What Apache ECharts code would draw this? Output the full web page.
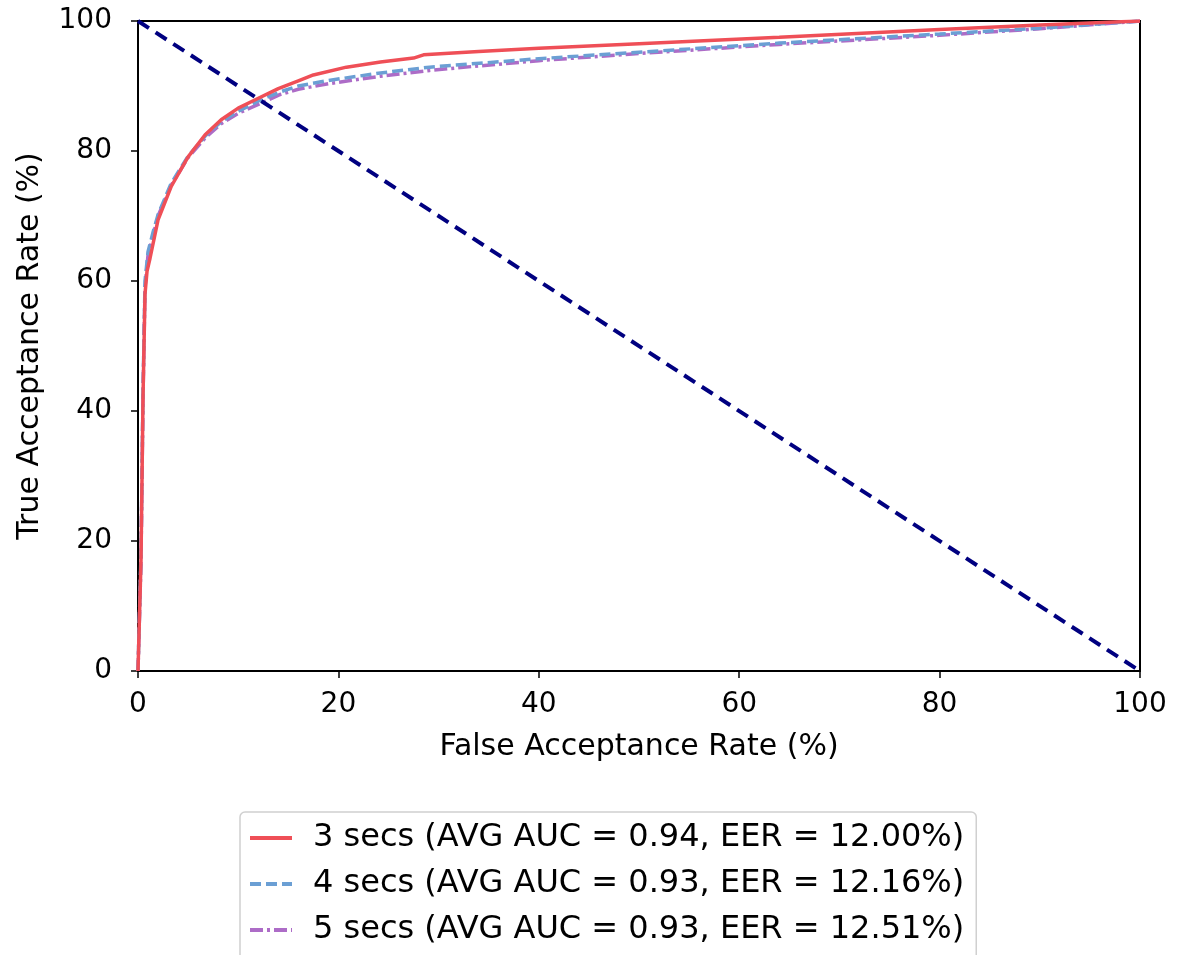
<!DOCTYPE html>
<html>
<head>
<meta charset="utf-8">
<script src="https://cdn.jsdelivr.net/npm/echarts@6/dist/echarts.min.js"></script>
<style>
  html, body { margin: 0; padding: 0; background: #fff; }
  #chart { width: 1183px; height: 955px; }
</style>
</head>
<body>
<div id="chart"></div>
<script>
// FAR (%) and TAR (%)
var far3 = [0, 0.3, 0.5, 0.7, 0.9, 1.2, 2, 3.3, 5, 6.7, 8.3, 10, 11.6, 14, 16, 17.5, 20.8, 24.2, 27.5, 28.5, 34, 40, 50, 64, 80, 90, 100];
var tar3 = [0, 17, 42, 58, 61.5, 63.5, 69.4, 74.5, 79.1, 82.5, 84.8, 86.6, 87.8, 89.6, 90.8, 91.7, 92.9, 93.7, 94.3, 94.8, 95.3, 95.8, 96.5, 97.5, 98.7, 99.4, 100];

var far4 = [0, 0.3, 0.5, 0.7, 1, 1.5, 2, 3.3, 5, 6.7, 8.3, 10, 12.16, 14.2, 16, 19.2, 24.2, 29.1, 34.1, 40, 50, 64, 80, 90, 100];
var tar4 = [0, 18, 43, 60, 64.5, 67.5, 70.2, 75, 79.2, 82.3, 84.5, 86.1, 87.8, 89.1, 90, 90.9, 92, 92.9, 93.5, 94.2, 95.2, 96.6, 98, 98.9, 100];

var far5 = [0, 0.3, 0.5, 0.7, 1, 1.5, 2, 3.3, 5, 6.7, 8.3, 10, 12.51, 14.2, 16, 19.2, 24.2, 29.1, 34.1, 40, 50, 64, 80, 90, 100];
var tar5 = [0, 17, 42, 59, 64, 67, 70, 74.7, 79, 82, 84.2, 85.8, 87.5, 88.7, 89.5, 90.4, 91.5, 92.4, 93.1, 93.9, 95, 96.4, 97.8, 98.8, 100];

var chanceFar = [0, 100];
var chanceTar = [100, 0];

var names = [
  '3 secs (AVG AUC = 0.94, EER = 12.00%)',
  '4 secs (AVG AUC = 0.93, EER = 12.16%)',
  '5 secs (AVG AUC = 0.93, EER = 12.51%)'
];

var colors = ['#ef4f57', '#6b9fd4', '#ad6cc7', '#000080'];

function pairs(xs, ys) {
  var out = [];
  for (var i = 0; i < xs.length; i++) out.push([xs[i], ys[i]]);
  return out;
}

var font = 'DejaVu Sans';

var chart = echarts.init(document.getElementById('chart'));
chart.setOption({
  animation: false,
  backgroundColor: '#fff',
  textStyle: { fontFamily: font },
  grid: {
    left: 138, right: 43, top: 21, bottom: 284,
    show: true, borderColor: '#000', borderWidth: 2,
    backgroundColor: 'transparent'
  },
  xAxis: {
    type: 'value', min: 0, max: 100, interval: 20,
    name: 'False Acceptance Rate (%)', nameLocation: 'middle', nameGap: 61,
    nameTextStyle: { fontSize: 30, color: '#000', fontFamily: font },
    axisLine: { show: true, lineStyle: { color: '#000', width: 2 } },
    axisTick: { show: true, length: 7, lineStyle: { color: '#000', width: 1.5 } },
    axisLabel: { fontSize: 28, color: '#000', margin: 20, fontFamily: font },
    splitLine: { show: false }
  },
  yAxis: {
    type: 'value', min: 0, max: 100, interval: 20,
    name: 'True Acceptance Rate (%)', nameLocation: 'middle', nameGap: 93,
    nameTextStyle: { fontSize: 30, color: '#000', fontFamily: font },
    axisLine: { show: true, lineStyle: { color: '#000', width: 2 } },
    axisTick: { show: true, length: 7, lineStyle: { color: '#000', width: 1.5 } },
    axisLabel: { fontSize: 28, color: '#000', margin: 26, fontFamily: font },
    splitLine: { show: false }
  },
  legend: {
    orient: 'vertical',
    left: 240, top: 812, height: 170,
    data: names,
    backgroundColor: '#fff',
    borderColor: '#d0d0d0', borderWidth: 1.5, borderRadius: 5,
    padding: [8, 12, 14, 8],
    itemWidth: 42, itemHeight: 14, itemGap: 10,
    itemStyle: { opacity: 0 },
    lineStyle: { width: 4 },
    textStyle: { fontSize: 32, lineHeight: 36, color: '#000', fontFamily: font, padding: [0, 0, 0, 16] }
  },
  series: [
    {
      name: names[0], type: 'line', symbol: 'none', z: 4,
      lineStyle: { color: colors[0], width: 3.5 },
      itemStyle: { color: colors[0] },
      data: pairs(far3, tar3)
    },
    {
      name: names[1], type: 'line', symbol: 'none', z: 3,
      lineStyle: { color: colors[1], width: 3.5, type: [11, 5] },
      itemStyle: { color: colors[1] },
      data: pairs(far4, tar4)
    },
    {
      name: names[2], type: 'line', symbol: 'none', z: 2,
      lineStyle: { color: colors[2], width: 3.5, type: [13, 4, 3, 4] },
      itemStyle: { color: colors[2] },
      data: pairs(far5, tar5)
    },
    {
      name: 'chance', type: 'line', symbol: 'none', z: 5,
      lineStyle: { color: colors[3], width: 4, type: [13, 8] },
      itemStyle: { color: colors[3] },
      data: pairs(chanceFar, chanceTar)
    }
  ]
});
</script>
</body>
</html>
